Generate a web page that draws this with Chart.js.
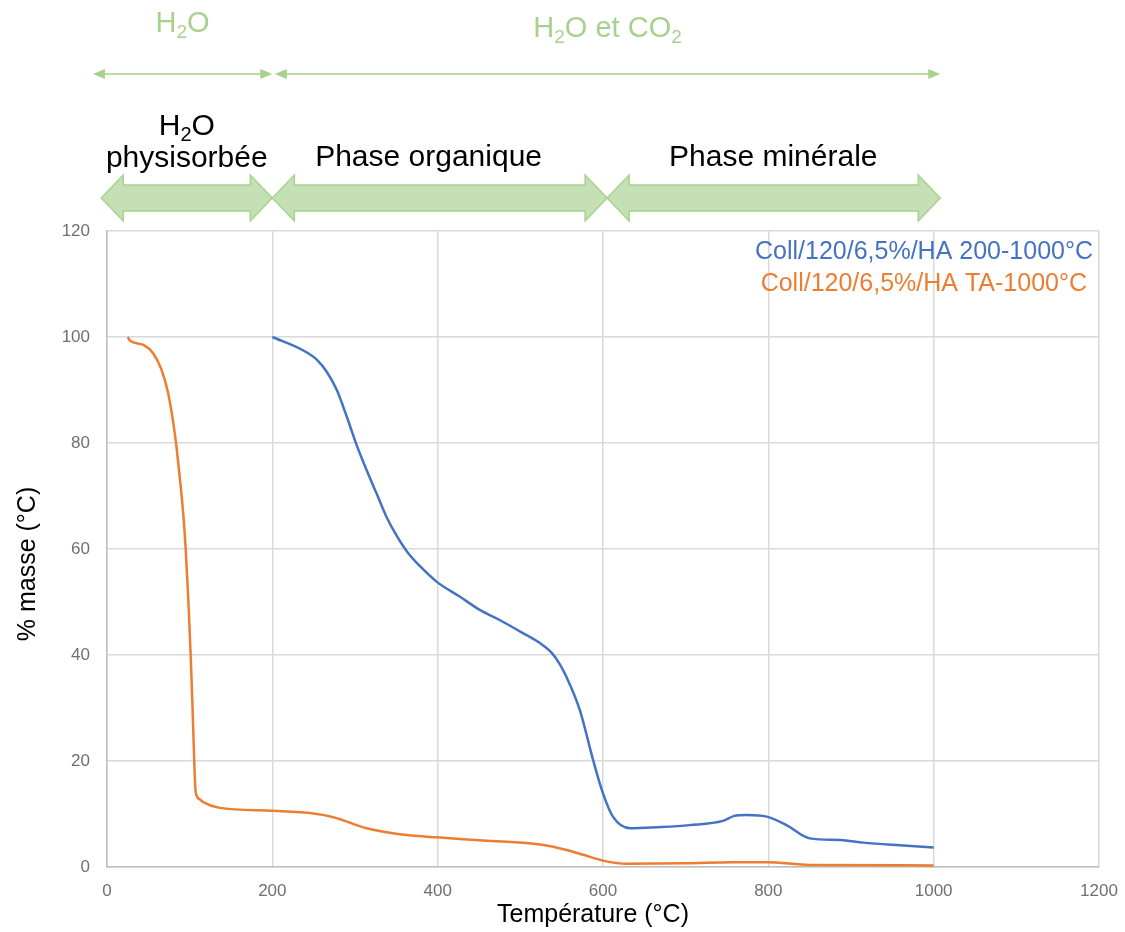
<!DOCTYPE html>
<html>
<head>
<meta charset="utf-8">
<script src="https://cdn.jsdelivr.net/npm/chart.js@4/dist/chart.umd.min.js"></script>
<style>
  html, body { margin: 0; padding: 0; background: #fff; }
  #wrap { width: 1125px; height: 932px; }
</style>
</head>
<body>
<div id="wrap"><canvas id="canvas"></canvas></div>
<script>
// ATG curves
var tempBlue = [200, 237, 254, 266, 278, 290, 302, 314, 326, 338, 350, 363, 379, 399, 427, 451, 475, 500, 524, 538, 548, 556, 572, 588, 600, 612, 633, 665, 705, 745, 758, 774, 798, 822, 850, 887, 915, 959, 1000];
var massBlue = [100, 97.5, 95.7, 93.4, 90, 85, 79.6, 74.9, 70.5, 66.1, 62.6, 59.5, 56.7, 53.8, 51, 48.5, 46.6, 44.4, 42.2, 40.4, 38.2, 35.8, 29.6, 20.2, 13.9, 9.5, 7.3, 7.5, 7.9, 8.7, 9.6, 9.8, 9.5, 7.9, 5.4, 5.1, 4.6, 4.1, 3.7];

var tempOrange = [25, 28, 44, 56, 66, 74, 79.5, 83.5, 87, 90, 92.8, 95.2, 98.5, 101.2, 103.5, 105.5, 106.8, 108.5, 112, 117, 135, 201, 250, 274, 314, 354, 399, 455, 528, 556, 576, 600, 629, 700, 757, 798, 850, 1000];
var massOrange = [100, 99.3, 98.5, 96.9, 93.8, 89.4, 84.5, 80, 75, 70.5, 65.5, 60, 50, 40, 30, 20, 15, 13.4, 12.8, 12.2, 11.2, 10.6, 10.1, 9.4, 7.3, 6.2, 5.6, 5.0, 4.15, 3.2, 2.3, 1.2, 0.6, 0.7, 0.9, 0.9, 0.4, 0.3];

var labelBlue = 'Coll/120/6,5%/HA 200-1000°C';
var labelOrange = 'Coll/120/6,5%/HA TA-1000°C';
var titleX = 'Température (°C)';
var titleY = '% masse (°C)';

// phase arrows (temperature range), label position and text
var phases = [
    { from: -7, to: 200, at: 96.5, text: ['H|2|O', 'physisorbée'] },
    { from: 200, to: 605, at: 389, text: ['Phase organique'] },
    { from: 605, to: 1008, at: 806, text: ['Phase minérale'] }
];
var released = [
    { from: -17, to: 200, text: 'H|2|O' },
    { from: 203, to: 1008, text: 'H|2|O et CO|2|' }
];

function toPoints(xs, ys) {
    return xs.map(function (x, i) { return { x: x, y: ys[i] }; });
}

var FONT = '"Liberation Sans", Arial, sans-serif';
var GREEN = '#a9d18e';
var GREEN_FILL = '#c5e0b4';
var TICK = '#707070';

// text with subscripts: "H|2|O" -> H, sub 2, O
function subText(ctx, str, cx, y, size) {
    var parts = str.split('|');
    var subSize = Math.round(size * 0.65);
    var w = 0;
    parts.forEach(function (p, i) {
        ctx.font = (i % 2 ? subSize : size) + 'px ' + FONT;
        w += ctx.measureText(p).width;
    });
    var x = cx - w / 2;
    ctx.textAlign = 'left';
    ctx.textBaseline = 'alphabetic';
    parts.forEach(function (p, i) {
        ctx.font = (i % 2 ? subSize : size) + 'px ' + FONT;
        ctx.fillText(p, x, i % 2 ? y + size * 0.2 : y);
        x += ctx.measureText(p).width;
    });
}

var annotations = {
    id: 'annotations',
    afterDraw: function (chart) {
        var ctx = chart.ctx;
        var xs = chart.scales.x;
        ctx.save();

        // thin arrows
        released.forEach(function (r, k) {
            var x1 = xs.getPixelForValue(r.from), x2 = xs.getPixelForValue(r.to);
            var y = 74;
            ctx.strokeStyle = GREEN;
            ctx.fillStyle = GREEN;
            ctx.lineWidth = 1.5;
            ctx.beginPath();
            ctx.moveTo(x1 + 4, y);
            ctx.lineTo(x2 - 4, y);
            ctx.stroke();
            ctx.beginPath();
            ctx.moveTo(x1, y); ctx.lineTo(x1 + 12, y - 5); ctx.lineTo(x1 + 12, y + 5); ctx.closePath();
            ctx.fill();
            ctx.beginPath();
            ctx.moveTo(x2, y); ctx.lineTo(x2 - 12, y - 5); ctx.lineTo(x2 - 12, y + 5); ctx.closePath();
            ctx.fill();
            subText(ctx, r.text, (x1 + x2) / 2, k ? 37 : 32, 29);
        });

        // thick double arrows
        phases.forEach(function (p) {
            var x1 = xs.getPixelForValue(p.from), x2 = xs.getPixelForValue(p.to);
            var yc = 198, sh = 13, hh = 23, hl = 22;
            ctx.beginPath();
            ctx.moveTo(x1, yc);
            ctx.lineTo(x1 + hl, yc - hh);
            ctx.lineTo(x1 + hl, yc - sh);
            ctx.lineTo(x2 - hl, yc - sh);
            ctx.lineTo(x2 - hl, yc - hh);
            ctx.lineTo(x2, yc);
            ctx.lineTo(x2 - hl, yc + hh);
            ctx.lineTo(x2 - hl, yc + sh);
            ctx.lineTo(x1 + hl, yc + sh);
            ctx.lineTo(x1 + hl, yc + hh);
            ctx.closePath();
            ctx.fillStyle = GREEN_FILL;
            ctx.fill();
            ctx.strokeStyle = GREEN;
            ctx.lineWidth = 1.5;
            ctx.stroke();

            ctx.fillStyle = '#000';
            var cx = xs.getPixelForValue(p.at);
            if (p.text.length === 2) {
                subText(ctx, p.text[0], cx, 135, 30);
                subText(ctx, p.text[1], cx, 167, 30);
            } else {
                subText(ctx, p.text[0], cx, 166, 30);
            }
        });

        // legend, text only, right aligned in the plot
        var ca = chart.chartArea;
        ctx.font = '25px ' + FONT;
        ctx.textAlign = 'right';
        ctx.textBaseline = 'middle';
        ctx.fillStyle = '#4472c4';
        ctx.fillText(labelBlue, ca.right - 6, 252);
        ctx.fillStyle = '#ed7d31';
        ctx.fillText(labelOrange, ca.right - 12, 284);

        // axis titles
        ctx.fillStyle = '#000';
        ctx.textAlign = 'center';
        ctx.fillText(titleX, 593, 915);
        ctx.translate(28, 564);
        ctx.rotate(-Math.PI / 2);
        ctx.fillText(titleY, 0, 0);
        ctx.restore();
    }
};

var ctx = document.getElementById('canvas').getContext('2d');
var config = {
    type: 'scatter',
    data: {
        datasets: [{
            label: labelBlue,
            data: toPoints(tempBlue, massBlue),
            showLine: true,
            borderColor: '#4472c4',
            borderWidth: 2.5,
            pointRadius: 0,
            cubicInterpolationMode: 'monotone'
        }, {
            label: labelOrange,
            data: toPoints(tempOrange, massOrange),
            showLine: true,
            borderColor: '#ed7d31',
            borderWidth: 2.5,
            pointRadius: 0,
            cubicInterpolationMode: 'monotone'
        }]
    },
    options: {
        responsive: true,
        maintainAspectRatio: false,
        animation: false,
        layout: { padding: { top: 231, right: 26, left: 0, bottom: 0 } },
        plugins: {
            legend: { display: false },
            tooltip: { enabled: false }
        },
        scales: {
            x: {
                type: 'linear',
                min: 0, max: 1200,
                ticks: {
                    stepSize: 200, color: TICK, font: { size: 17, family: FONT }, padding: 14,
                    callback: function (v) { return String(v); }
                },
                grid: { color: '#d9d9d9', lineWidth: 1.5, drawTicks: false },
                border: { color: '#bfbfbf', width: 1.5 },
                afterFit: function (s) { s.height = 65; s.paddingLeft = 0; s.paddingRight = 0; }
            },
            y: {
                min: 0, max: 120,
                ticks: { stepSize: 20, color: TICK, font: { size: 17, family: FONT }, padding: 17 },
                grid: { color: '#d9d9d9', lineWidth: 1.5, drawTicks: false },
                border: { color: '#bfbfbf', width: 1.5 },
                afterFit: function (s) { s.width = 107; s.paddingTop = 0; s.paddingBottom = 0; }
            }
        }
    },
    plugins: [annotations]
};
var chart = new Chart(ctx, config);
</script>
</body>
</html>
